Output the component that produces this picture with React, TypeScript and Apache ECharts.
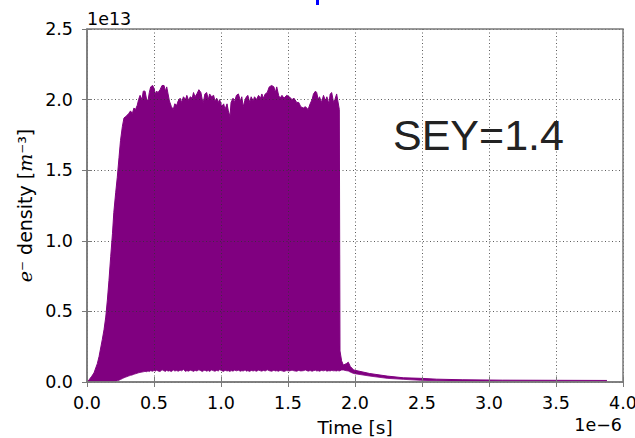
import React, { useEffect, useRef } from "react";
import * as echarts from "echarts";

// Time in units of 1e-6 s
const T = [
  0, 0.015, 0.035, 0.052, 0.077, 0.09, 0.114, 0.127, 0.14, 0.152,
  0.164, 0.177, 0.19, 0.2, 0.214, 0.226, 0.239, 0.25, 0.264, 0.276,
  0.29, 0.31, 0.325, 0.338, 0.35, 0.362, 0.375, 0.385,
  0.396, 0.41, 0.42, 0.433, 0.445, 0.455, 0.465, 0.475, 0.49, 0.5,
  0.51, 0.52, 0.53, 0.545, 0.56, 0.575, 0.585, 0.595, 0.605, 0.615,
  0.63, 0.644, 0.655, 0.67, 0.68, 0.695, 0.705, 0.72, 0.735, 0.745,
  0.76, 0.77, 0.785, 0.795, 0.806, 0.82, 0.835, 0.85, 0.86, 0.868,
  0.88, 0.893, 0.905, 0.915, 0.93, 0.945, 0.955, 0.968, 0.98, 0.99,
  1.005, 1.02, 1.03, 1.045, 1.055, 1.067, 1.075, 1.09, 1.1, 1.115,
  1.13, 1.145, 1.155, 1.166, 1.18, 1.19, 1.2, 1.215, 1.225, 1.24,
  1.25, 1.265, 1.28, 1.295, 1.305, 1.316, 1.33, 1.345, 1.36, 1.378,
  1.395, 1.405, 1.416, 1.43, 1.44, 1.455, 1.47, 1.49, 1.51, 1.53,
  1.545, 1.565, 1.58, 1.595, 1.614, 1.63, 1.65, 1.665, 1.68, 1.69,
  1.705, 1.714, 1.725, 1.735, 1.75, 1.765, 1.78, 1.79, 1.805, 1.815,
  1.826, 1.84, 1.85, 1.863, 1.872, 1.883,
  1.888, 1.9, 1.913, 1.935, 1.95, 1.965, 1.99, 2.11, 2.24, 2.36,
  2.49, 2.61, 2.8, 3.1, 3.5, 3.88,
];

// Upper envelope of the oscillating density (units of 1e13 m^-3)
const UPPER = [
  0, 0.015, 0.04, 0.064, 0.13, 0.18, 0.3, 0.37, 0.46, 0.58,
  0.72, 0.89, 1.05, 1.2, 1.34, 1.45, 1.59, 1.71, 1.81, 1.87,
  1.88, 1.9, 1.92, 1.9, 1.94, 1.93, 1.96, 2.0,
  2.03, 2.0, 2.06, 2.06, 2.0, 1.99, 2.05, 2.09, 2.1, 2.08,
  2.04, 2.06, 2.05, 2.07, 2.1, 2.1, 2.06, 2.09, 2.04, 1.99,
  1.95, 1.93, 1.97, 1.96, 1.99, 2.01, 1.98, 2.02, 2.0, 2.03,
  1.99, 2.02, 2.01, 2.05, 2.02, 2.04, 2.07, 2.05, 2.0, 1.98,
  2.04, 2.05, 2.0, 2.04, 2.02, 2.03, 1.99, 2.01, 1.98, 2.0,
  1.95, 1.97, 1.93, 1.97, 1.92, 1.88, 1.98, 2.01, 1.98, 2.03,
  2.04, 1.99, 2.02, 1.95, 2.0, 2.02, 2.03, 1.98, 2.02, 1.99,
  2.02, 2.0, 2.03, 2.01, 2.04, 2.01, 2.04, 2.05, 2.09, 2.1,
  2.09, 2.05, 2.09, 2.03, 2.01, 2.03, 2.01, 2.03, 2.02, 2.0,
  2.01, 1.98, 1.98, 1.95, 1.94, 1.95, 1.93, 1.97, 2.0, 2.04,
  2.06, 2.05, 2.0, 2.02, 1.98, 2.03, 1.99, 2.02, 1.97, 2.04,
  2.05, 1.98, 2.0, 2.04, 1.99, 1.93,
  0.22, 0.15, 0.12, 0.13, 0.14, 0.11, 0.085, 0.06, 0.042, 0.03,
  0.026, 0.02, 0.016, 0.013, 0.012, 0.011,
];

// Lower envelope of the oscillating density (units of 1e13 m^-3)
const LOWER = [
  0, 0, 0, 0, 0, 0, 0, 0, 0, 0,
  0, 0, 0, 0, 0.003, 0.008, 0.013, 0.018, 0.024, 0.03,
  0.035, 0.042, 0.047, 0.05, 0.055, 0.058, 0.062, 0.065,
  0.068, 0.07, 0.072, 0.075, 0.073, 0.078, 0.074, 0.08, 0.076, 0.082,
  0.077, 0.084, 0.078, 0.074, 0.086, 0.079, 0.075, 0.083, 0.077, 0.08,
  0.074, 0.085, 0.078, 0.081, 0.076, 0.083, 0.079, 0.088, 0.075, 0.08,
  0.077, 0.084, 0.079, 0.075, 0.082, 0.078, 0.086, 0.08, 0.074, 0.079,
  0.083, 0.077, 0.081, 0.075, 0.085, 0.079, 0.076, 0.082, 0.078, 0.087,
  0.08, 0.075, 0.083, 0.078, 0.08, 0.074, 0.081, 0.077, 0.084, 0.079,
  0.083, 0.076, 0.08, 0.078, 0.085, 0.077, 0.08, 0.075, 0.082, 0.078,
  0.081, 0.076, 0.084, 0.079, 0.077, 0.082, 0.078, 0.086, 0.08, 0.076,
  0.083, 0.078, 0.08, 0.076, 0.082, 0.079, 0.075, 0.081, 0.078, 0.084,
  0.079, 0.076, 0.082, 0.078, 0.08, 0.085, 0.077, 0.081, 0.076, 0.08,
  0.083, 0.078, 0.08, 0.076, 0.082, 0.079, 0.083, 0.077, 0.08, 0.078,
  0.082, 0.079, 0.08, 0.078, 0.081, 0.078,
  0.08, 0.085, 0.085, 0.08, 0.078, 0.07, 0.06, 0.042, 0.026, 0.019,
  0.012, 0.009, 0.006, 0.004, 0.003, 0.003,
];

const X_TICKS = [0, 0.5, 1.0, 1.5, 2.0, 2.5, 3.0, 3.5, 4.0];
const Y_TICKS = [0, 0.5, 1.0, 1.5, 2.0, 2.5];

const PURPLE = "#800080";
const AXIS_GRAY = "#7a7a7a";
const FONT = "DejaVu Sans";

export default function App() {
  const ref = useRef<HTMLDivElement>(null);

  useEffect(() => {
    document.body.style.margin = "0";
    if (!ref.current) return;
    const chart = echarts.init(ref.current, undefined, { renderer: "svg" });

    const upperData = T.map((t, i) => [t, UPPER[i]]);
    const lowerData = T.map((t, i) => [t, LOWER[i]]);

    const splitLine = {
      show: true,
      lineStyle: { color: "#333", width: 0.8, type: [1, 2.5] as any },
    };

    const xMin = X_TICKS[0];
    const xMax = X_TICKS[X_TICKS.length - 1];
    const yMin = Y_TICKS[0];
    const yMax = Y_TICKS[Y_TICKS.length - 1];

    const tick = { show: true, inside: true, length: 5, lineStyle: { color: AXIS_GRAY, width: 1 } };

    chart.setOption({
      animation: false,
      backgroundColor: "#fff",
      grid: {
        left: 87,
        right: 12,
        top: 29,
        bottom: 56,
        outerBoundsMode: "none",
        containLabel: false,
        show: true,
        borderColor: AXIS_GRAY,
        borderWidth: 1.5,
        backgroundColor: "transparent",
        z: 6,
      },
      xAxis: [
        {
          type: "value",
          min: xMin,
          max: xMax,
          interval: 0.5,
          z: 5,
          name: "Time [s]",
          nameLocation: "middle",
          nameGap: 36,
          nameTextStyle: { fontFamily: FONT, fontSize: 18.5, color: "#000" },
          axisLine: { show: true, onZero: false, lineStyle: { color: AXIS_GRAY, width: 1.5 } },
          axisTick: tick,
          axisLabel: {
            fontFamily: FONT,
            fontSize: 17.5,
            color: "#000",
            margin: 12,
            formatter: (v: number) => v.toFixed(1),
          },
          splitLine,
        },
        {
          type: "value",
          position: "top",
          min: xMin,
          max: xMax,
          interval: 0.5,
          z: 5,
          axisLine: { show: false },
          axisTick: tick,
          axisLabel: { show: false },
          splitLine: { show: false },
        },
      ],
      yAxis: [
        {
          type: "value",
          min: yMin,
          max: yMax,
          interval: 0.5,
          z: 5,
          name: "{it|e}{n|⁻ density [}{it|m}{n|⁻³]}",
          nameLocation: "middle",
          nameGap: 52,
          nameRotate: 90,
          nameTextStyle: {
            fontFamily: FONT,
            fontSize: 19,
            color: "#000",
            rich: {
              it: { fontFamily: "DejaVu Serif", fontStyle: "italic", fontSize: 19, color: "#000" },
              n: { fontFamily: FONT, fontSize: 19, color: "#000" },
            },
          },
          axisLine: { show: true, onZero: false, lineStyle: { color: AXIS_GRAY, width: 1.5 } },
          axisTick: tick,
          axisLabel: {
            fontFamily: FONT,
            fontSize: 17.5,
            color: "#000",
            margin: 14,
            formatter: (v: number) => v.toFixed(1),
          },
          splitLine,
        },
        {
          type: "value",
          position: "right",
          min: yMin,
          max: yMax,
          interval: 0.5,
          z: 5,
          axisLine: { show: false },
          axisTick: tick,
          axisLabel: { show: false },
          splitLine: { show: false },
        },
      ],
      series: [
        {
          type: "line",
          name: "upper",
          data: upperData,
          showSymbol: false,
          symbol: "none",
          lineStyle: { color: PURPLE, width: 1 },
          areaStyle: { color: PURPLE, opacity: 1 },
          z: 2,
        },
        {
          type: "line",
          name: "lower",
          data: lowerData,
          showSymbol: false,
          symbol: "none",
          lineStyle: { color: PURPLE, width: 0.8 },
          areaStyle: { color: "#ffffff", opacity: 1 },
          z: 3,
        },
      ],
      graphic: [
        {
          type: "text",
          left: 87,
          top: 10,
          style: { text: "1e13", fontFamily: FONT, fontSize: 17.5, fill: "#000" },
        },
        {
          type: "text",
          right: 13,
          top: 416,
          style: { text: "1e\u22126", fontFamily: FONT, fontSize: 17.5, fill: "#000" },
        },
        {
          type: "text",
          left: 393,
          top: 113,
          style: { text: "SEY=1.4", fontFamily: "Liberation Sans", fontSize: 43, fill: "#222" },
        },
        {
          type: "rect",
          shape: { x: 316, y: 0, width: 3, height: 5 },
          style: { fill: "#0000ff" },
        },
      ],
    });

    return () => chart.dispose();
  }, []);

  return <div ref={ref} style={{ width: 635, height: 438 }} />;
}
